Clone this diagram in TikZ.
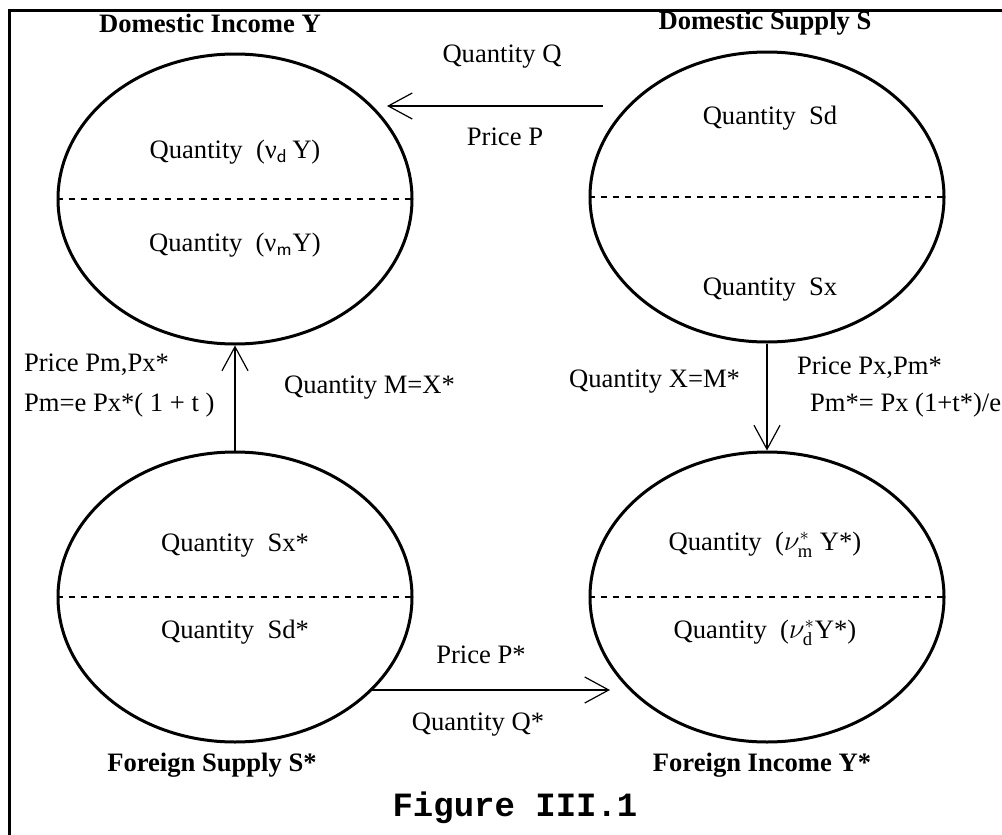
\documentclass[tikz,border=0pt]{standalone}
\usepackage{fontspec}
\setmainfont{Liberation Serif}
\newfontfamily\capfont{Liberation Mono}
\usetikzlibrary{shapes.geometric,arrows.meta}
\tikzset{
  every node/.style={font=\fontsize{13.3}{16}\selectfont},
  market/.style={ellipse, draw, line width=1.5pt, minimum width=177pt, minimum height=145pt, inner sep=0pt},
  flow/.style={line width=0.6pt, -{Straight Barb[length=12pt,width=13pt,line width=0.6pt]}},
  split/.style={dashed, line width=0.6pt},
  title/.style={font=\bfseries\fontsize{13.3}{16}\selectfont}
}

\begin{document}
\begin{tikzpicture}[x=0.5pt, y=-0.5pt]
\useasboundingbox (0,0) rectangle (1002,835);
% Frame
    \draw[line width=1.5pt] (9,835) -- (9,10) -- (1002,10);
% Markets
    \node[market] (dy) at (235,199) {};
    \node[market] (ds) at (767,197) {};
    \node[market] (fs) at (235,597) {};
    \node[market] (fi) at (767,597) {};
    \draw[split] (dy.west) -- (dy.east);
    \draw[split] (ds.west) -- (ds.east);
    \draw[split] (fs.west) -- (fs.east);
    \draw[split] (fi.west) -- (fi.east);
% Titles
    \node[title] (dyt) at (210,23) {Domestic Income Y};
    \node[title] (dst) at (765,23) {Domestic Supply S};
    \node[title] (fst) at (212,765) {Foreign Supply S*};
    \node[title] (fit) at (762,765) {Foreign Income Y*};
% Quantities inside
    \node (dy1) at (235,152) {Quantity\ \ (ν\textsubscript{\sffamily d}\,Y)};
    \node (dy2) at (235,245) {Quantity\ \ (ν\textsubscript{\sffamily m}Y)};
    \node (ds1) at (770,118) {Quantity\ \ Sd};
    \node (ds2) at (770,290) {Quantity\ \ Sx};
    \node (fs1) at (235,546) {Quantity\ \ Sx*};
    \node (fs2) at (235,632) {Quantity\ \ Sd*};
    \node (fi1) at (765,545) {Quantity\ \ ($\nu^{*}_{\mathrm{m}}$\ Y*)};
    \node (fi2) at (765,633) {Quantity\ \ ($\nu^{*}_{\mathrm{d}}$Y*)};
% Flows
    \coordinate (qa) at (603,106);
    \coordinate (qb) at (387,106);
    \coordinate (qc) at (372,690);
    \coordinate (qd) at (610,690);
    \draw[flow] (qa) -- (qb);
    \draw[flow] (fs.north) -- (dy.south);
    \draw[flow] (ds.south) -- (fi.north);
    \draw[flow] (qc) -- (qd);
% Flow labels
    \node (lq) at (502,57) {Quantity Q};
    \node (lp) at (505,137) {Price P};
    \node[anchor=west] (lpm) at (17,365) {Price Pm,Px*};
    \node[anchor=west] (lpme) at (17,405) {Pm=e Px*( 1 + t )};
    \node[anchor=west] (lm) at (277,388) {Quantity M=X*};
    \node[anchor=west] (lx) at (562,382) {Quantity X=M*};
    \node[anchor=west] (lpx) at (790,368) {Price Px,Pm*};
    \node[anchor=west] (lpxe) at (803,405) {Pm*= Px (1+t*)/e};
    \node (lps) at (481,655) {Price P*};
    \node (lqs) at (478,725) {Quantity Q*};
% Caption
    \node[font=\capfont\bfseries\fontsize{17}{20}\selectfont] (cap) at (515,808) {Figure III.1};
\end{tikzpicture}
\end{document}
